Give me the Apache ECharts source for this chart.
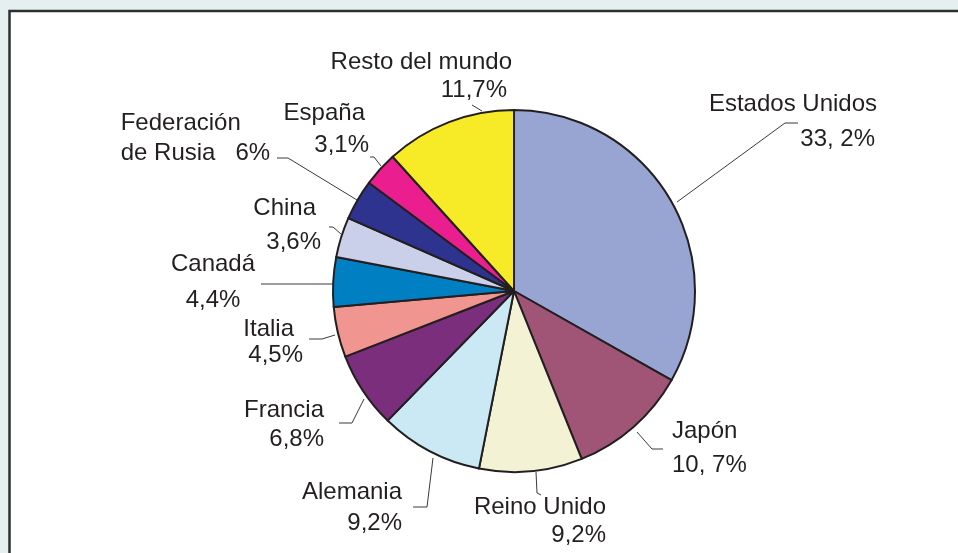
<!DOCTYPE html>
<html>
<head>
<meta charset="utf-8">
<script src="https://cdn.jsdelivr.net/npm/echarts@6/dist/echarts.min.js"></script>
<style>
html,body{margin:0;padding:0;background:#e6eff0;}
#chart{width:958px;height:553px;}
</style>
</head>
<body>
<div id="chart"></div>
<script>
// ---- data ----
const countries = ['Estados Unidos', 'Japón', 'Reino Unido', 'Alemania', 'Francia', 'Italia', 'Canadá', 'China', 'Federación\nde Rusia', 'España', 'Resto del mundo'];
const shares = [33.2, 10.7, 9.2, 9.2, 6.8, 4.5, 4.4, 3.6, 3.6, 3.1, 11.7];
const shareLabels = ['33, 2%', '10, 7%', '9,2%', '9,2%', '6,8%', '4,5%', '4,4%', '3,6%', '6%', '3,1%', '11,7%'];

// ---- styles ----
const colors = ['#98a5d3', '#a05577', '#f3f2d4', '#cbe9f4', '#7b2e7b', '#f09590', '#0080c3', '#cbd0ea', '#2e3390', '#ea1e8e', '#f7ea27'];
const TEXT = '#231f20';
const FONT = '"Liberation Sans", Arial, Helvetica, sans-serif';

// label placement (x anchor, first baseline, line spacing, alignment, leader line)
const labelLayouts = [
  { x: 877, b1: 112, d: 35, align: 'right', padPct: 2, line: [[677, 202], [785, 123], [798, 123]] },
  { x: 672, b1: 439, d: 34, align: 'left', line: [[637, 432], [652, 449], [663, 449]] },
  { x: 606, b1: 515, d: 28.5, align: 'right', line: [[536, 472], [537, 493], [541, 495]] },
  { x: 402, b1: 500, d: 31.7, align: 'right', line: [[433, 458], [427, 507], [413, 507]] },
  { x: 324, b1: 418.3, d: 29, align: 'right', line: [[364, 399], [352, 423], [339, 423]] },
  { x: 303, b1: 337.3, d: 26, align: 'right', padName: 9, line: [[335, 335], [322, 339], [309, 339]] },
  { x: 213, b1: 272.3, d: 36, align: 'center', line: [[333, 284], [297, 284], [261, 284]] },
  { x: 321, b1: 216.7, d: 33.3, align: 'right', padName: 5, line: [[341, 234], [333, 227], [329, 227]] },
  { x: 120.7, b1: 131.7, d: 29.3, align: 'left', inline: true, line: [[357, 200], [288, 158], [277, 158]] },
  { x: 369, b1: 121.7, d: 32, align: 'right', padName: 4, line: [[381, 166], [374, 157], [370, 157]] },
  { x: 512, b1: 70, d: 28.3, align: 'right', padPct: 5, line: [[482, 111], [477, 108], [472, 105]] }
];

function richFor(L) {
  const base = { fontFamily: FONT, fontSize: 24, color: TEXT, lineHeight: L.d };
  return {
    n: Object.assign({}, base, { padding: [0, L.padName || 0, 0, 0] }),
    p: Object.assign({}, base, { padding: [0, L.padPct || 0, 0, 0] }),
    q: Object.assign({}, base, { padding: [0, 0, 0, 20] })
  };
}

const pieData = countries.map((name, i) => {
  const L = labelLayouts[i];
  const nameLines = name.split('\n').map(s => '{n|' + s + '}');
  let fmt;
  if (L.inline) {
    fmt = nameLines.join('\n') + '{q|' + shareLabels[i] + '}';
  } else {
    fmt = nameLines.join('\n') + '\n{p|' + shareLabels[i] + '}';
  }
  return {
    name: name,
    value: shares[i],
    itemStyle: { color: colors[i] },
    label: { formatter: fmt, rich: richFor(L) }
  };
});

const chart = echarts.init(document.getElementById('chart'), null, { renderer: 'canvas' });
chart.setOption({
  backgroundColor: '#e6eff0',
  animation: false,
  graphic: [{
    type: 'rect',
    z: -10,
    shape: { x: 9.5, y: 11, width: 1000, height: 600 },
    style: { fill: '#ffffff', stroke: '#2e2e2e', lineWidth: 2.5 }
  }],
  series: [{
    type: 'pie',
    center: [514, 291],
    radius: 181,
    startAngle: 90,
    clockwise: true,
    avoidLabelOverlap: false,
    itemStyle: { borderColor: '#231f20', borderWidth: 2 },
    label: {
      show: true,
      position: 'outside',
      fontFamily: FONT,
      fontSize: 24,
      color: TEXT
    },
    labelLine: {
      show: true,
      length: 10,
      length2: 10,
      lineStyle: { color: '#3a3a3a', width: 1 }
    },
    labelLayout: function (params) {
      const L = labelLayouts[params.dataIndex];
      return {
        x: L.x,
        y: L.b1 - 8 - L.d / 2,
        align: L.align,
        verticalAlign: 'top',
        labelLinePoints: L.line
      };
    },
    emphasis: { disabled: true },
    data: pieData
  }]
});
</script>
</body>
</html>
